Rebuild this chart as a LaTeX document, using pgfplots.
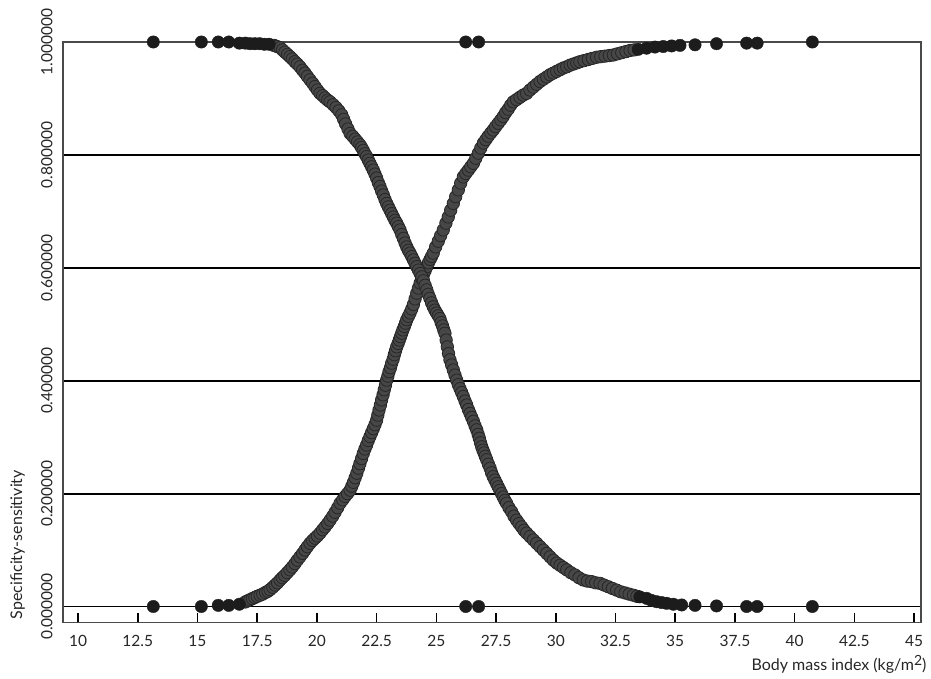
\documentclass[border=0pt]{standalone}
\usepackage{pgfplots}
\pgfplotsset{compat=1.18}
\usepackage{fontspec}
\setmainfont{Lato}
\definecolor{curvefill}{HTML}{474747}
\definecolor{curvedraw}{HTML}{262626}
\definecolor{darkfill}{HTML}{1C1C1C}
\definecolor{axisgray}{HTML}{4A4A4A}
\begin{document}
\begin{tikzpicture}[x=1pt,y=1pt]
\useasboundingbox (0,0) rectangle (931,678);
\begin{axis}[
  at={(63pt,55.3pt)}, anchor=south west,
  scale only axis, width=858pt, height=580.7pt,
  xmin=9.37, xmax=45.29, ymin=-0.0287, ymax=1,
  clip=false,
  /pgf/number format/assume math mode=true,
  axis line style={draw=axisgray, line width=1.1pt},
  xtick={10,12.5,15,17.5,20,22.5,25,27.5,30,32.5,35,37.5,40,42.5,45},
  xticklabels={10,12.5,15,17.5,20,22.5,25,27.5,30,32.5,35,37.5,40,42.5,45},
  xtick pos=bottom, tick align=inside, major tick length=10pt,
  xtick style={black, line width=1.6pt},
  ytick={0,0.2,0.4,0.6,0.8,1},
  ytick style={draw=none},
  yticklabel={\pgfmathprintnumber[fixed,fixed zerofill,precision=6]{\tick}},
  yticklabel style={rotate=90, anchor=south},
  yticklabel shift=7pt,
  xticklabel shift=9pt,
  ticklabel style={font=\fontsize{15.5}{17}\selectfont, text=black!85},
  ymajorgrids,
  major grid style={black, line width=1.8pt},
  xlabel={Body mass index (kg/m\raisebox{0.3em}{\fontsize{14}{14}\selectfont 2})},
  ylabel={Specificity-sensitivity},
  every axis x label/.style={at={(axis description cs:1.0105,-0.0815)}, anchor=base east, font=\fontsize{16}{18}\selectfont, text=black!85},
  every axis y label/.style={at={(axis description cs:-0.053,0)}, rotate=90, anchor=west, font=\fontsize{16}{18}\selectfont, text=black!85},
]
% sensitivity (increasing)
\addplot[only marks, mark=*, mark size=6.2pt, mark options={fill=curvefill, draw=curvedraw, line width=0.8pt}] coordinates {
(17.0,0.008) (17.1,0.010) (17.2,0.012) (17.3,0.014) (17.4,0.016) (17.5,0.018) (17.62,0.020) (17.73,0.022) (17.85,0.025) (17.95,0.027) (18.04,0.030) (18.15,0.034) (18.25,0.038) (18.35,0.042) (18.46,0.047) (18.55,0.051) (18.65,0.055) (18.76,0.060) (18.87,0.065) (18.97,0.070) (19.08,0.076) (19.18,0.082) (19.29,0.088) (19.4,0.094) (19.5,0.100) (19.6,0.106) (19.71,0.112) (19.82,0.117) (19.92,0.121) (20.02,0.125) (20.13,0.130) (20.24,0.136) (20.34,0.141) (20.45,0.147) (20.55,0.153) (20.66,0.160) (20.76,0.167) (20.87,0.175) (20.97,0.183) (21.08,0.189) (21.18,0.195) (21.28,0.200) (21.39,0.206) (21.46,0.213) (21.53,0.220) (21.6,0.228) (21.67,0.236) (21.74,0.245) (21.8,0.253) (21.87,0.262) (21.94,0.271) (22.01,0.279) (22.08,0.286) (22.15,0.294) (22.22,0.301) (22.29,0.308) (22.36,0.315) (22.43,0.322) (22.50,0.330) (22.55,0.339) (22.6,0.348) (22.66,0.357) (22.71,0.366) (22.77,0.375) (22.82,0.384) (22.87,0.392) (22.92,0.401) (22.97,0.408) (23.02,0.416) (23.08,0.423) (23.13,0.431) (23.19,0.438) (23.24,0.446) (23.29,0.453) (23.34,0.460) (23.4,0.466) (23.45,0.472) (23.5,0.478) (23.55,0.484) (23.6,0.490) (23.66,0.496) (23.71,0.502) (23.76,0.508) (23.83,0.514) (23.9,0.520) (23.97,0.527) (24.04,0.535) (24.11,0.545) (24.18,0.555) (24.25,0.564) (24.32,0.573) (24.39,0.581) (24.46,0.588) (24.53,0.595) (24.60,0.602) (24.67,0.609) (24.74,0.615) (24.8,0.620) (24.87,0.626) (24.97,0.637) (25.08,0.647) (25.18,0.657) (25.29,0.667) (25.4,0.679) (25.5,0.690) (25.6,0.702) (25.71,0.714) (25.81,0.726) (25.92,0.738) (26.02,0.750) (26.13,0.761) (26.23,0.767) (26.34,0.773) (26.44,0.779) (26.55,0.785) (26.65,0.794) (26.76,0.803) (26.86,0.812) (26.97,0.821) (27.07,0.827) (27.17,0.833) (27.28,0.839) (27.38,0.844) (27.48,0.850) (27.59,0.856) (27.7,0.862) (27.80,0.868) (27.9,0.875) (28.01,0.881) (28.11,0.888) (28.22,0.894) (28.36,0.898) (28.5,0.902) (28.64,0.906) (28.78,0.909) (28.92,0.915) (29.06,0.920) (29.2,0.925) (29.34,0.930) (29.48,0.934) (29.62,0.938) (29.76,0.942) (29.90,0.945) (30.04,0.948) (30.18,0.951) (30.32,0.954) (30.46,0.956) (30.6,0.959) (30.74,0.961) (30.88,0.963) (31.01,0.965) (31.18,0.967) (31.36,0.969) (31.53,0.971) (31.71,0.973) (31.88,0.974) (32.06,0.975) (32.24,0.976) (32.41,0.977) (32.58,0.979) (32.76,0.981) (32.94,0.983) (33.11,0.985) (33.28,0.986)
};
% specificity (decreasing)
\addplot[only marks, mark=*, mark size=6.2pt, mark options={fill=curvefill, draw=curvedraw, line width=0.8pt}] coordinates {
(18.2,0.994) (18.33,0.992) (18.46,0.990) (18.56,0.986) (18.66,0.982) (18.77,0.978) (18.87,0.974) (18.97,0.970) (19.08,0.965) (19.18,0.961) (19.29,0.956) (19.4,0.950) (19.5,0.945) (19.6,0.939) (19.71,0.933) (19.82,0.927) (19.92,0.921) (20.02,0.915) (20.13,0.909) (20.24,0.905) (20.34,0.901) (20.45,0.897) (20.55,0.894) (20.68,0.889) (20.8,0.884) (20.92,0.878) (21.04,0.871) (21.12,0.863) (21.2,0.855) (21.3,0.846) (21.39,0.838) (21.5,0.833) (21.6,0.828) (21.7,0.823) (21.80,0.818) (21.87,0.813) (21.94,0.808) (22.01,0.802) (22.08,0.797) (22.15,0.791) (22.22,0.785) (22.29,0.779) (22.36,0.773) (22.43,0.766) (22.5,0.759) (22.57,0.751) (22.64,0.744) (22.71,0.736) (22.78,0.729) (22.85,0.721) (22.92,0.714) (22.99,0.708) (23.06,0.702) (23.13,0.696) (23.20,0.690) (23.27,0.684) (23.34,0.679) (23.41,0.673) (23.48,0.667) (23.55,0.659) (23.62,0.652) (23.69,0.644) (23.76,0.637) (23.83,0.631) (23.9,0.626) (23.97,0.620) (24.04,0.614) (24.11,0.608) (24.18,0.602) (24.25,0.596) (24.32,0.590) (24.39,0.584) (24.46,0.577) (24.53,0.569) (24.60,0.561) (24.66,0.553) (24.73,0.546) (24.8,0.538) (24.87,0.531) (24.94,0.525) (25.01,0.520) (25.08,0.515) (25.15,0.510) (25.2,0.503) (25.26,0.497) (25.31,0.490) (25.36,0.484) (25.41,0.472) (25.46,0.460) (25.51,0.448) (25.57,0.437) (25.64,0.428) (25.71,0.419) (25.78,0.410) (25.85,0.401) (25.92,0.393) (25.99,0.386) (26.06,0.379) (26.13,0.372) (26.2,0.364) (26.27,0.357) (26.34,0.349) (26.41,0.342) (26.48,0.335) (26.55,0.328) (26.62,0.320) (26.69,0.313) (26.75,0.305) (26.8,0.298) (26.85,0.290) (26.90,0.283) (26.95,0.277) (27.0,0.272) (27.05,0.266) (27.11,0.260) (27.18,0.252) (27.25,0.245) (27.31,0.237) (27.38,0.230) (27.45,0.224) (27.52,0.218) (27.59,0.212) (27.66,0.206) (27.73,0.200) (27.8,0.194) (27.87,0.188) (27.94,0.183) (28.04,0.175) (28.15,0.168) (28.25,0.160) (28.36,0.153) (28.46,0.147) (28.57,0.141) (28.67,0.135) (28.78,0.130) (28.92,0.124) (29.06,0.118) (29.2,0.112) (29.34,0.106) (29.48,0.100) (29.62,0.094) (29.76,0.088) (29.90,0.082) (30.04,0.077) (30.18,0.073) (30.32,0.069) (30.46,0.065) (30.63,0.060) (30.8,0.056) (30.97,0.051) (31.15,0.047) (31.32,0.045) (31.5,0.044) (31.67,0.042) (31.85,0.041) (32.02,0.038) (32.2,0.035) (32.37,0.032) (32.55,0.029) (32.72,0.026) (32.9,0.024) (33.07,0.022) (33.25,0.020) (33.4,0.018)
};
% flat ends and single cases
\addplot[only marks, mark=*, mark size=6.2pt, mark options={fill=darkfill, draw=darkfill, line width=0.4pt}] coordinates {
(13.15,1) (15.16,1) (15.87,1) (16.31,1) (16.75,0.998) (17.0,0.998) (17.2,0.997) (17.4,0.997) (17.6,0.997) (17.8,0.996) (18.0,0.996)
(26.23,1) (26.77,1)
(33.45,0.987) (33.80,0.989) (34.15,0.991) (34.50,0.992) (34.85,0.993) (35.20,0.994) (35.83,0.995) (36.73,0.997) (37.99,0.998) (38.43,0.998) (40.74,1)
(13.15,0) (15.16,0) (15.87,0.002) (16.31,0.002) (16.75,0.004)
(26.23,0) (26.77,0)
(33.52,0.017) (33.80,0.0145) (34.0,0.011) (34.22,0.0085) (34.43,0.007) (34.64,0.0057) (34.92,0.004) (35.27,0.0027) (35.83,0.002) (36.73,0.001) (37.99,0) (38.43,0) (40.74,0)
};
\end{axis}
\end{tikzpicture}
\end{document}
